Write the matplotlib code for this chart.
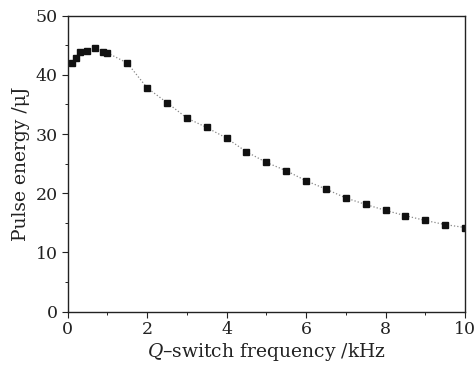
import matplotlib.pyplot as plt
from matplotlib.ticker import MultipleLocator

# Q-switch frequency (kHz) and measured pulse energy (uJ)
freq = [0.1, 0.2, 0.3, 0.5, 0.7, 0.9, 1.0, 1.5, 2.0, 2.5, 3.0, 3.5, 4.0,
        4.5, 5.0, 5.5, 6.0, 6.5, 7.0, 7.5, 8.0, 8.5, 9.0, 9.5, 10.0]
energy = [42.0, 42.9, 43.9, 44.1, 44.5, 43.8, 43.7, 42.0, 37.8, 35.3, 32.7,
          31.1, 29.3, 27.0, 25.2, 23.8, 22.1, 20.7, 19.2, 18.1, 17.1, 16.2,
          15.4, 14.7, 14.2]

plt.rcParams['font.family'] = 'DejaVu Serif'
plt.rcParams['mathtext.fontset'] = 'dejavuserif'

fig = plt.figure(figsize=(4.76, 3.71), dpi=100)
ax = fig.add_axes([0.142, 0.160, 0.835, 0.798])

# dotted guide line, then the points on top
ax.plot(freq, energy, linestyle=':', color='#888888', linewidth=0.9)
ax.plot(freq, energy, linestyle='none', marker='s', markersize=4.2,
        color='#111111')

ax.set_xlim(0, 10)
ax.set_ylim(0, 50)
ax.xaxis.set_major_locator(MultipleLocator(2))
ax.xaxis.set_minor_locator(MultipleLocator(1))
ax.yaxis.set_major_locator(MultipleLocator(10))
ax.yaxis.set_minor_locator(MultipleLocator(5))
ax.tick_params(which='major', direction='out', length=4, width=0.8,
               labelsize=12.5, colors='#222222', pad=3)
ax.tick_params(which='minor', direction='out', length=2, width=0.6)

for s in ax.spines.values():
    s.set_linewidth(1.0)
    s.set_color('#222222')

ax.set_xlabel('$Q$\u2013switch frequency /kHz', fontsize=13.5,
              color='#222222', labelpad=2)
ax.set_ylabel('Pulse energy /\u03bcJ', fontsize=13.5, color='#222222',
              labelpad=4)

fig.savefig('out.png', dpi=100)
